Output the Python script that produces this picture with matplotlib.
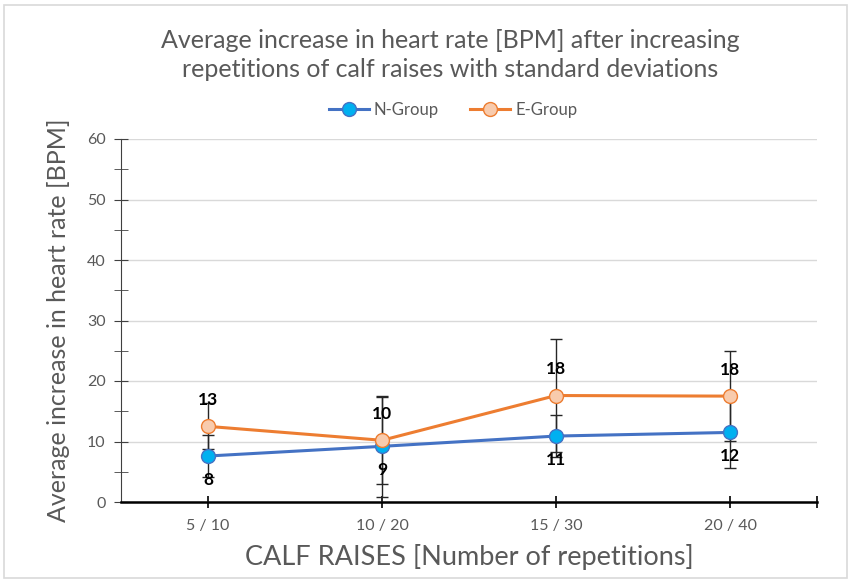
import matplotlib
matplotlib.use("Agg")
import matplotlib.pyplot as plt
from matplotlib.patches import Rectangle
from matplotlib.ticker import MultipleLocator

categories = ["5 / 10", "10 / 20", "15 / 30", "20 / 40"]
n_group = [7.6, 9.2, 10.9, 11.5]
e_group = [12.5, 10.2, 17.6, 17.5]
n_sd = [3.5, 8.4, 3.5, 5.9]
e_sd = [3.8, 7.2, 9.4, 7.4]
n_labels = ["8", "9", "11", "12"]
e_labels = ["13", "10", "18", "18"]

FONT = ["Lato", "DejaVu Sans"]
GRAY = "#595959"

fig = plt.figure(figsize=(8.51, 5.83), dpi=100)
fig.patches.append(Rectangle((4/851, 1-578/583), 843/851, 573/583, transform=fig.transFigure,
                             fill=False, edgecolor="#d9d9d9", linewidth=1.2))
ax = fig.add_axes([121/851, 1-502/583, (817-121)/851, (502-139)/583])

x = [i + 0.5 for i in range(len(categories))]

ax.errorbar(x, e_group, yerr=e_sd, fmt="none", ecolor="#262626", elinewidth=1, capsize=4, capthick=1, zorder=2)
ax.errorbar(x, n_group, yerr=n_sd, fmt="none", ecolor="#262626", elinewidth=1, capsize=4, capthick=1, zorder=2)
ax.plot(x, n_group, color="#4472C4", lw=2.2, marker="o", ms=10, mfc="#00B0F0", mec="#4472C4", mew=1, label="N-Group", zorder=3)
ax.plot(x, e_group, color="#ED7D31", lw=2.2, marker="o", ms=10, mfc="#F8CBAD", mec="#ED7D31", mew=1, label="E-Group", zorder=3)

for xi, v, t in zip(x, n_group, n_labels):
    ax.annotate(t, (xi, v), xytext=(0, -17), textcoords="offset points", ha="center", va="center",
                fontsize=12.5, fontweight="bold", color="black", family=FONT, zorder=4)
for xi, v, t in zip(x, e_group, e_labels):
    ax.annotate(t, (xi, v), xytext=(0, 19), textcoords="offset points", ha="center", va="center",
                fontsize=12.5, fontweight="bold", color="black", family=FONT, zorder=4)

ax.set_xlim(0, 4)
ax.set_ylim(0, 60)
ax.yaxis.set_major_locator(MultipleLocator(10))
ax.yaxis.set_minor_locator(MultipleLocator(5))
ax.set_xticks(x + [4.0])
ax.set_xticklabels(categories + [""])
ax.grid(axis="y", color="#d9d9d9", lw=1)
ax.set_axisbelow(True)
for s in ["top", "right"]:
    ax.spines[s].set_visible(False)
ax.spines["left"].set_color("#404040")
ax.spines["bottom"].set_color("black")
ax.spines["bottom"].set_linewidth(1.8)
ax.tick_params(axis="y", which="both", direction="inout", length=10, color="#404040", labelcolor=GRAY, labelsize=11.5, pad=6)
ax.tick_params(axis="x", direction="inout", length=8, width=1.2, color="black", labelcolor=GRAY, labelsize=11.5, pad=8)
for lab in ax.get_xticklabels() + ax.get_yticklabels():
    lab.set_family(FONT)

ax.set_ylabel("Average increase in heart rate [BPM]", fontsize=18, color=GRAY, family=FONT, labelpad=12)
ax.set_xlabel("CALF RAISES [Number of repetitions]", fontsize=19.5, color=GRAY, family=FONT, labelpad=8)

fig.text(450/851, 1-55/583, "Average increase in heart rate [BPM] after increasing\nrepetitions of calf raises with standard deviations",
         ha="center", va="center", fontsize=18, color=GRAY, family=FONT, linespacing=1.35)

leg = ax.legend(loc="center", bbox_to_anchor=(453/851, 1-110/583), bbox_transform=fig.transFigure, ncol=2,
                frameon=False, handlelength=2.4, handletextpad=0.3, columnspacing=1.9, prop={"family": FONT, "size": 12})
for t in leg.get_texts():
    t.set_color(GRAY)

fig.savefig("out.png", dpi=100)
